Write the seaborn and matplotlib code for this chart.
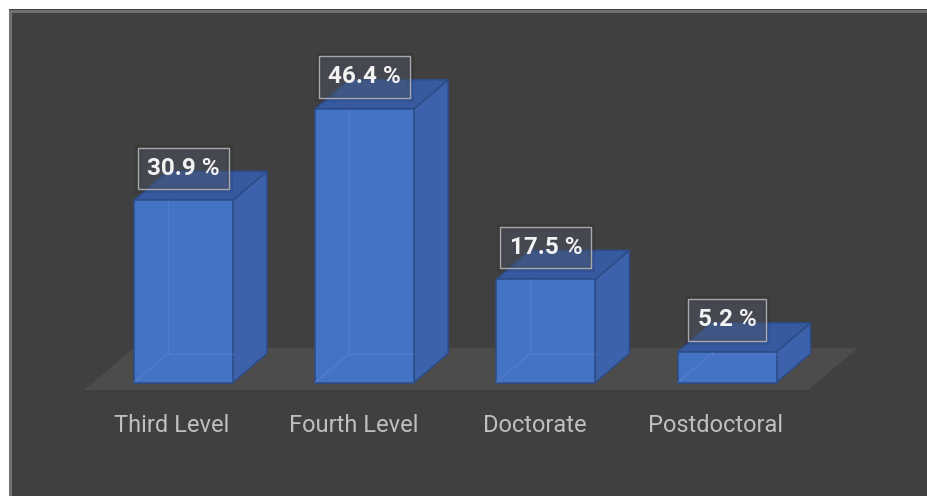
import matplotlib
matplotlib.use("Agg")
import matplotlib.pyplot as plt
from matplotlib.patches import Polygon, Rectangle
from matplotlib.lines import Line2D
import matplotlib.patheffects as pe
import seaborn as sns
import pandas as pd

# Highest education level reached
categories = ["Third Level", "Fourth Level", "Doctorate", "Postdoctoral"]
shares = [30.9, 46.4, 17.5, 5.2]
value_labels = ["30.9 %", "46.4 %", "17.5 %", "5.2 %"]

W, H, DPI = 928, 496, 100

sns.set_theme(style="white")
plt.rcParams["font.family"] = ["Roboto", "DejaVu Sans"]

FRONT = "#4472C4"
SIDE = "#3B62AA"
TOP = "#3759A0"
EDGE = "#2C4C86"
PANEL = "#404040"
FLOOR = "#4E4B4B"

fig = plt.figure(figsize=(W / DPI, H / DPI), dpi=DPI, facecolor=PANEL)

# white margin above and left of the dark panel, with a grey border line
fig.add_artist(Rectangle((0, (H - 9) / H), 1, 9 / H, transform=fig.transFigure,
                         facecolor="white", edgecolor="none", zorder=0))
fig.add_artist(Rectangle((0, 0), 9 / W, 1, transform=fig.transFigure,
                         facecolor="white", edgecolor="none", zorder=0))
fig.add_artist(Line2D([10.5 / W, 1], [(H - 10.5) / H] * 2, transform=fig.transFigure,
                      color="#727272", linewidth=2.2, zorder=0))
fig.add_artist(Line2D([10.5 / W] * 2, [0, (H - 10.5) / H], transform=fig.transFigure,
                      color="#727272", linewidth=2.2, zorder=0))

ax = fig.add_axes([0, 0, 1, 1])
ax.patch.set_visible(False)

df = pd.DataFrame({"level": categories, "share": shares})
sns.barplot(data=df, x="level", y="share", color=FRONT, saturation=1,
            width=0.546, edgecolor=EDGE, linewidth=1.1, ax=ax, zorder=3)

# pixel scale of the plotting area
X0, SX = 183.5, 181.2     # px of first category, px per category
Y0, SY = 113.5, 5.9       # px of zero from bottom, px per percent
ax.set_xlim(-X0 / SX, (W - X0) / SX)
ax.set_ylim(-Y0 / SY, (H - Y0) / SY)
ax.axis("off")


def to_data(px, py):
    """Convert pixel position (from top-left) into data coordinates."""
    return (px - X0) / SX, (H - py - Y0) / SY


# floor of the 3-D plot area
floor = [to_data(84, 390), to_data(808, 390), to_data(858, 348), to_data(134, 348)]
ax.add_patch(Polygon(floor, closed=True, facecolor=FLOOR, edgecolor="none", zorder=1))

DX, DY = 34 / SX, 29 / SY   # depth of each column

for bar, label in zip(ax.patches[:len(shares)], value_labels):
    x0, w, h = bar.get_x(), bar.get_width(), bar.get_height()
    side = [(x0 + w, 0), (x0 + w + DX, DY), (x0 + w + DX, h + DY), (x0 + w, h)]
    top = [(x0, h), (x0 + DX, h + DY), (x0 + w + DX, h + DY), (x0 + w, h)]
    ax.add_patch(Polygon(side, closed=True, facecolor=SIDE, edgecolor=EDGE,
                         linewidth=1.1, zorder=2))
    ax.add_patch(Polygon(top, closed=True, facecolor=TOP, edgecolor=EDGE,
                         linewidth=1.1, zorder=2))
    # hidden back edges seen through the translucent column
    for xs, ys in (([x0 + DX, x0 + DX], [DY, h]),
                   ([x0, x0 + DX], [0, DY]),
                   ([x0 + DX, x0 + w], [DY, DY])):
        ax.add_line(Line2D(xs, ys, color="#6F93D6", alpha=0.3, linewidth=1.0, zorder=4))

    ann = ax.annotate(label, xy=(x0 + w / 2, h), xytext=(0, 23), textcoords="offset points",
                      ha="center", va="center", fontsize=17.5, fontweight="bold",
                      color="#F2F2F2", zorder=6,
                      bbox=dict(boxstyle="square,pad=0.38", facecolor=(0.30, 0.33, 0.40, 0.42),
                                edgecolor="#A8A8A8", linewidth=1.0))
    ann.get_bbox_patch().set_path_effects(
        [pe.Stroke(linewidth=5, foreground="black", alpha=0.08), pe.Normal()])

label_y = to_data(0, 425)[1]
for i, name in enumerate(categories):
    ax.text(i - 11.5 / SX, label_y, name, ha="center", va="center",
            fontsize=17, color="#BFBFBF", zorder=5)

fig.savefig("out.png", dpi=DPI, facecolor=PANEL)
